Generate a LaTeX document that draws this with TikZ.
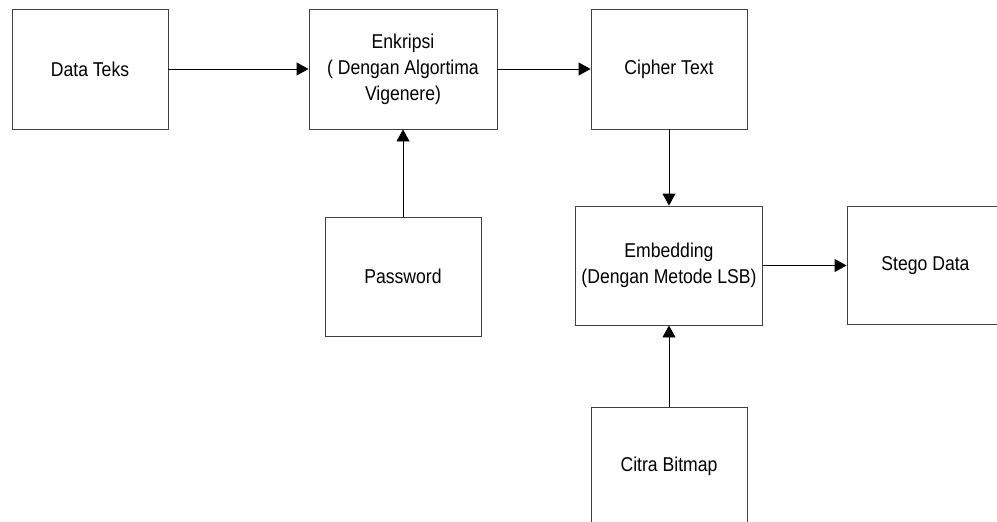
\documentclass[tikz,border=0pt]{standalone}
\usepackage{fontspec}
\setmainfont{Liberation Sans}[FakeStretch=0.88]
\usetikzlibrary{arrows.meta}
\tikzset{
  blk/.style={draw=black!75, line width=0.9pt, rectangle, inner sep=0pt, align=center,
    font=\fontsize{20}{26}\selectfont, text=black},
  arr/.style={draw=black, line width=0.9pt, -{Triangle[length=12pt,width=13pt]}}
}
\begin{document}
\begin{tikzpicture}[x=1pt,y=-1pt]
\useasboundingbox (0,0) rectangle (997,522);
\clip (0,0) rectangle (997,522);
\node[blk, minimum width=156pt, minimum height=120pt] (data) at (90,69) {Data Teks};
\node[blk, minimum width=188pt, minimum height=120pt] (enk) at (403,69) {Enkripsi\\( Dengan Algortima\\Vigenere)};
\node[blk, minimum width=156pt, minimum height=120pt] (ciph) at (669,69) {Cipher Text};
\node[blk, minimum width=156pt, minimum height=119pt] (pass) at (403,276.5) {Password};
\node[blk, minimum width=187pt, minimum height=119pt] (emb) at (669,265.5) {Embedding\\(Dengan Metode LSB)};
\node[blk, minimum width=157pt, minimum height=118pt] (steg) at (925.5,265.5) {Stego Data};
\node[blk, minimum width=156pt, minimum height=118pt] (citra) at (669,466) {Citra Bitmap};
\draw[arr] (data) -- (enk);
\draw[arr] (enk) -- (ciph);
\draw[arr] (pass) -- (enk);
\draw[arr] (ciph) -- (emb);
\draw[arr] (emb) -- (steg);
\draw[arr] (citra) -- (emb);
\end{tikzpicture}
\end{document}
